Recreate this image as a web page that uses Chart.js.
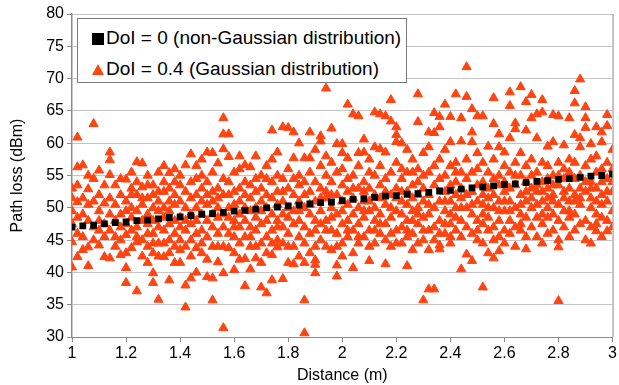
<!DOCTYPE html>
<html>
<head>
<meta charset="utf-8">
<script src="https://cdn.jsdelivr.net/npm/chart.js@4"></script>
<style>
  body { margin: 0; background: #fff; }
  #wrap { position: relative; width: 619px; height: 385px; }
  #legend {
    position: absolute; left: 77px; top: 18px; width: 328px; height: 63px;
    background: #fff; border: 1px solid #7a7a7a;
    font-family: "Liberation Sans", Arial, sans-serif; font-size: 19px; color: #000;
  }
  .row { position: absolute; left: 14px; white-space: nowrap; line-height: 20px; }
  .sq { display: inline-block; width: 12px; height: 12px; background: #000; margin-right: 2px; vertical-align: -1px; }
  .tri { display: inline-block; width: 0; height: 0; border-left: 6px solid transparent; border-right: 6px solid transparent;
         border-bottom: 11px solid #ff4411; margin-right: 2px; vertical-align: 0px; }
</style>
</head>
<body>
<div id="wrap">
  <canvas id="chart" width="619" height="385"></canvas>
  <div id="legend">
    <div class="row" style="top:9px"><span class="sq"></span>DoI = 0 (non-Gaussian distribution)</div>
    <div class="row" style="top:40px"><span class="tri"></span>DoI = 0.4 (Gaussian distribution)</div>
  </div>
</div>
<script>
// DoI = 0 : black dotted trend
const lineX = [1.00,1.04,1.08,1.12,1.16,1.20,1.24,1.28,1.32,1.36,1.40,1.44,1.48,1.52,1.56,1.60,1.64,1.68,1.72,1.76,
  1.80,1.84,1.88,1.92,1.96,2.00,2.04,2.08,2.12,2.16,2.20,2.24,2.28,2.32,2.36,2.40,2.44,2.48,2.52,2.56,
  2.60,2.64,2.68,2.72,2.76,2.80,2.84,2.88,2.92,2.96,3.00];
const lineY = [47.0,47.2,47.3,47.5,47.7,47.8,48.0,48.1,48.3,48.5,48.6,48.8,49.0,49.1,49.3,49.5,49.6,49.8,50.0,50.1,
  50.3,50.4,50.6,50.8,50.9,51.1,51.3,51.4,51.6,51.8,51.9,52.1,52.2,52.4,52.6,52.7,52.9,53.1,53.2,53.4,
  53.6,53.7,53.9,54.1,54.2,54.4,54.5,54.7,54.9,55.0,55.2];

// DoI = 0.4 : scattered samples, one list of path loss values per distance
const gaussX = [1.00,1.02,1.04,1.06,1.08,1.10,1.12,1.14,1.16,1.18,1.20,1.22,1.24,1.26,1.28,1.30,1.32,1.34,1.36,1.38,
  1.40,1.42,1.44,1.46,1.48,1.50,1.52,1.54,1.56,1.58,1.60,1.62,1.64,1.66,1.68,1.70,1.72,1.74,1.76,1.78,
  1.80,1.82,1.84,1.86,1.88,1.90,1.92,1.94,1.96,1.98,2.00,2.02,2.04,2.06,2.08,2.10,2.12,2.14,2.16,2.18,
  2.20,2.22,2.24,2.26,2.28,2.30,2.32,2.34,2.36,2.38,2.40,2.42,2.44,2.46,2.48,2.50,2.52,2.54,2.56,2.58,
  2.60,2.62,2.64,2.66,2.68,2.70,2.72,2.74,2.76,2.78,2.80,2.82,2.84,2.86,2.88,2.90,2.92,2.94,2.96,2.98,3.00];
const gaussY = [
  [53,49.5,44.7,40.8,47.5,51.5],
  [60.9,56.3,50.9,42.4,46,48.5,53.5],
  [56.6,51.5,45.5,49,43.5],
  [52.9,43.9,41,55,48,50.5],
  [63,54.5,47,45,51],
  [52,44.2,49.5,46.5,55.8,48],
  [50.7,42.4,53.5,47.5,45.5],
  [58.6,57.4,55.1,42.2,49,51.5,46.5],
  [53.5,45.5,48,50.5,44],
  [42.7,45,52,49,47,54.5],
  [54.4,40.7,38.4,47.5,51,45.8,43,49.5],
  [55.5,43.8,50,48.5,53,46.5,52],
  [57.1,44.7,37.1,52,49.5,47,54,45.5],
  [56.9,53.2,45,50.5,48,42.5,51.5],
  [41.5,55,47.5,51.5,44,49,53.5,46],
  [53.5,39.9,38.4,46,50,48,43,52,44.5],
  [35.8,52.5,47,49.5,44.5,55.5,51,42.5],
  [42.4,50,54,46.5,48.5,52.5,44.5,56.5],
  [55.4,38.8,45,51,53,47.5,49.5,43],
  [41.5,56,52,44,48,50.5,46,54],
  [45,43.5,53.5,51,48.5,55,47,41.5],
  [34.6,38,56.6,50,52.5,46.5,44,48],
  [39.1,58.3,54,49,47.5,51.5,45,42.5],
  [40,43.8,56.5,52,50,48,54.5,46],
  [43,55,51,46.5,49,53,44.5,57.5],
  [39.3,58.6,52,48,50.5,45.5,54,42],
  [39.1,35.7,58.5,51,47,55.5,49,44,52.5],
  [41.6,56.9,53,48.5,50,46,44,51.5],
  [63.9,31.4,61.4,59.1,44,39.9,52,49,47,54.5],
  [61.4,43.8,57.9,54,50,46,48.5,52],
  [40.4,52.5,55.5,48,45.5,50.5,43,47],
  [53,49,47,44.5,56,51,42,58],
  [37.9,42.1,56.6,52,48,45.5,50,54],
  [40.5,56.3,53.5,49.5,47,44,51.5,45.5],
  [42.2,54.5,50,46.5,48.5,52.5,58,44],
  [37.7,55,51,47.5,44.5,49.5,53,41.5],
  [36.8,52,48,45.5,56.5,50,43,54.5],
  [38.8,42.7,62,54,49,46.5,51.5,57.5,44.5],
  [43.9,58.6,52.5,48,50.5,45,55,47],
  [39,62.5,51,47,54.5,44.5,49,52.5],
  [62.4,41.5,53,48.5,50,46,56,44],
  [61.7,41.3,57.7,52,47.5,49.5,44,54.5],
  [60,55,51,48,45.5,53.5,42.5,49.5],
  [35.7,30.6,41.5,57.7,50,47,54,44.5,52],
  [61.7,57.7,52.5,49,46,55.5,43,50.5],
  [39.9,41.9,41.2,51,48,54,46.5,59,44],
  [60.3,61.1,53,49.5,45,56.5,47.5,51.5],
  [68.5,55,51.5,48,44,52.5,46.5,58],
  [62.3,50,46.5,54,57,43.5,48.5,52],
  [39.4,41.1,59.9,52,49,55.5,46,44],
  [58.5,59.9,51,47.5,44.5,53.5,49.5,56,42.5],
  [66,57.7,48,52.5,45.5,50.5,54.5,46.5],
  [40.7,64.5,55,49,46.5,51.5,43,53],
  [64.2,53,47.5,50,56.5,44.5,58.5,45.5],
  [60.6,58.6,51,48.5,54,45.5,52.5,49.5],
  [41.8,49.5,55.5,46.5,53,57.5,51,44],
  [64.8,59.4,48,52,44.5,55,50,46.5],
  [64.5,59.1,53.5,49,46,51.5,56.5,47.5],
  [41.3,64.2,58.6,50.5,47.5,54.5,45,52.5],
  [63.4,66.7,52,48.5,55.5,44,50,46],
  [62.5,61.3,60.2,53,49.5,46.5,57,51.5,44.5],
  [60,51,47,54.5,44.5,56,49,52.5],
  [59,41,52.5,48,55.5,45.5,50.5,46.5],
  [53.5,49.5,46,57.5,51.5,43.5,55.5,48],
  [67.6,63.3,50,54,47.5,56,44.5,52,49],
  [35.7,55,51,48.5,45,53,58.5,46.5],
  [59.4,37.4,61.7,52,49,46.5,55.5,43.5,50.5],
  [64.7,61.6,37.4,53.5,50,47,56.5,45],
  [43.6,64.1,62.5,44.2,51,48,54.5,57.5,46],
  [66,52.5,49.5,46,55,59,47.5,51],
  [44.5,64.1,60.2,51,47.5,53.5,56.5,49,45.5],
  [67.6,50,54,46.5,57,52,48.5,55.5],
  [63.9,40.5,60.3,55.5,51.5,48,45.5,53,50],
  [71.8,67.2,42.8,50,57.5,47,54.5,52],
  [65.3,41.8,60.2,61.7,52.5,49,46,55.5,50.5],
  [64.2,51,48,56,53.5,45,58.5,46.5],
  [64.2,37.7,50.5,47.5,54,52,44.5,57,49],
  [43,55.5,51.5,48.5,46.5,53,59.5,50],
  [67,63,42.2,50,47,54.5,52,57.5,45],
  [61.4,59.4,43.3,51,48,55,45.5,53.5,49.5],
  [58.6,49.5,46.5,56.5,52.5,44.5,54,51],
  [67.9,65.8,60.8,51,48,55.5,46,53,49.5],
  [63.1,62.2,50,47,57,53.5,44,55],
  [68.7,52,49,55,46.5,58.5,50.5,47.5],
  [66.4,62,43.6,54,51,48.5,56.5,45.5,52.5],
  [67.5,63.9,50,47,53,57.5,55,51.5],
  [64.5,60.8,52.5,48.5,45.5,55.5,50.5,53.5],
  [66.7,64.8,51,47.5,54,57,44.5,49,52.5],
  [53,50,46,56.5,48.5,59.5,51.5,54.5],
  [64.4,60.2,52,49,55,46.5,51,53.5],
  [64.2,45,43.9,35.6,53.5,50.5,48,57,55],
  [59.7,54.5,51.5,47,56,49.5,52.5],
  [63.9,53,48.5,45.5,55.5,51,57.5,49.5],
  [68.1,66.2,61.3,52,49,57,46.5,54.5,51],
  [69.9,60.8,59.4,50.5,47.5,55,53,51.5],
  [65.6,63.9,62.4,52.5,48,56.5,45,54],
  [44.5,59.9,54,50,47,57.5,51.5,53],
  [62.5,46.4,53,49,55.5,58,51,47.5],
  [61.7,60.2,52,48.5,56,50.5,45.5,54],
  [64.4,62.7,46.4,54.5,51,48,57,52.5],
  [52.5,49.5,56,47,54,59]
];

const xTicks = [1, 1.2, 1.4, 1.6, 1.8, 2, 2.2, 2.4, 2.6, 2.8, 3];
const yTicks = [30, 35, 40, 45, 50, 55, 60, 65, 70, 75, 80];

const linePts = lineX.map((x, i) => ({ x: x, y: lineY[i] }));
const gaussPts = [];
gaussX.forEach((x, i) => gaussY[i].forEach(y => gaussPts.push({ x: x, y: y })));

const font = { family: '"Liberation Sans", Arial, sans-serif', size: 16 };

const frame = {
  id: 'frame',
  afterDraw(chart) {
    const a = chart.chartArea, c = chart.ctx;
    c.save();
    c.strokeStyle = '#8c8c8c';
    c.lineWidth = 1;
    c.beginPath();
    c.moveTo(a.right + 0.5, a.top);
    c.lineTo(a.right + 0.5, a.bottom);
    c.stroke();
    c.restore();
  }
};

new Chart(document.getElementById('chart'), {
  type: 'scatter',
  data: {
    datasets: [{
      label: 'DoI = 0 (non-Gaussian distribution)',
      data: linePts,
      pointStyle: 'rect',
      pointRadius: 4.8,
      backgroundColor: '#000',
      borderColor: '#000',
      borderWidth: 0
    }, {
      label: 'DoI = 0.4 (Gaussian distribution)',
      data: gaussPts,
      pointStyle: 'triangle',
      pointRadius: 5.3,
      backgroundColor: '#ff4411',
      borderColor: '#ff4411',
      borderWidth: 1
    }]
  },
  options: {
    responsive: false,
    animation: false,
    layout: { padding: { top: 14, right: 6, left: 0, bottom: 0 } },
    plugins: { legend: { display: false }, tooltip: { enabled: false } },
    scales: {
      x: {
        type: 'linear', min: 1, max: 3,
        afterBuildTicks: s => { s.ticks = xTicks.map(v => ({ value: v })); },
        afterFit: s => { s.height = 48; },
        ticks: { color: '#000', font: font, padding: 2, maxRotation: 0, callback: v => String(v) },
        grid: { drawOnChartArea: false, color: '#8c8c8c', tickLength: 5 },
        border: { color: '#8c8c8c', width: 1 },
        title: { display: true, text: 'Distance (m)', color: '#000', font: font, padding: { top: 0, bottom: 0 } }
      },
      y: {
        min: 30, max: 80,
        afterBuildTicks: s => { s.ticks = yTicks.map(v => ({ value: v })); },
        afterFit: s => { s.width = 72; },
        ticks: { color: '#000', font: font, padding: 3 },
        grid: { color: '#c4c4c4', tickLength: 5, tickColor: '#8c8c8c' },
        border: { color: '#8c8c8c', width: 1.5 },
        title: { display: true, text: 'Path loss (dBm)', color: '#000', font: font, padding: { top: 8, bottom: 0 } }
      }
    }
  },
  plugins: [frame]
});
</script>
</body>
</html>
